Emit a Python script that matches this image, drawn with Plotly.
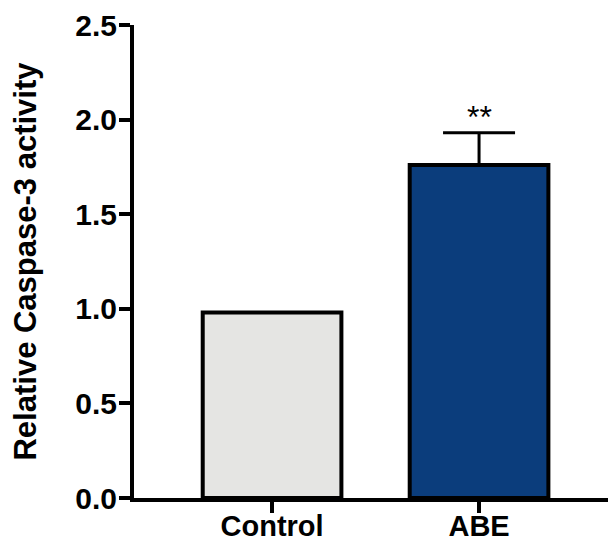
import plotly.graph_objects as go

categories = ["Control", "ABE"]
values = [0.98, 1.76]
errors_up = [0.0, 0.17]
colors = ["#e5e5e3", "#0b3d7c"]
significance = ["", "**"]
y_ticks = [0.0, 0.5, 1.0, 1.5, 2.0, 2.5]
y_ticklabels = ["0.0", "0.5", "1.0", "1.5", "2.0", "2.5"]

fig = go.Figure()
for i, cat in enumerate(categories):
    tr = dict(
        x=[cat], y=[values[i]], width=0.67,
        marker=dict(color=colors[i], line=dict(color="black", width=4)),
        showlegend=False,
    )
    if errors_up[i] > 0:
        tr["error_y"] = dict(type="data", symmetric=False, array=[errors_up[i]],
                             arrayminus=[0], color="black", thickness=3, width=36)
    fig.add_trace(go.Bar(**tr))
    if significance[i]:
        fig.add_annotation(x=cat, y=values[i] + errors_up[i], text=significance[i],
                           showarrow=False, yshift=16,
                           font=dict(family="Liberation Sans", size=32, color="black"))

fig.update_layout(
    width=608, height=544,
    margin=dict(l=134, r=0, t=25, b=46),
    plot_bgcolor="white", paper_bgcolor="white",
    barmode="overlay",
    font=dict(family="Liberation Sans", color="black"),
)
fig.update_xaxes(
    range=[-0.667, 1.623], showline=True, linecolor="black", linewidth=4,
    ticks="outside", ticklen=11, tickwidth=4, tickcolor="black",
    tickfont=dict(size=29, family="Liberation Sans", weight="bold"),
    ticklabelstandoff=-12,
    showgrid=False, zeroline=False, automargin=False,
)
fig.update_yaxes(
    range=[0, 2.5], tickvals=y_ticks, ticktext=y_ticklabels,
    showline=True, linecolor="black", linewidth=4,
    ticks="outside", ticklen=11, tickwidth=4, tickcolor="black",
    tickfont=dict(size=30, family="Liberation Sans", weight="bold"),
    ticklabelstandoff=-4,
    showgrid=False, zeroline=False, automargin=False,
    title=dict(text="Relative Caspase-3 activity", standoff=30,
               font=dict(size=31, family="Liberation Sans", weight="bold")),
)
fig.write_html("out.html")
